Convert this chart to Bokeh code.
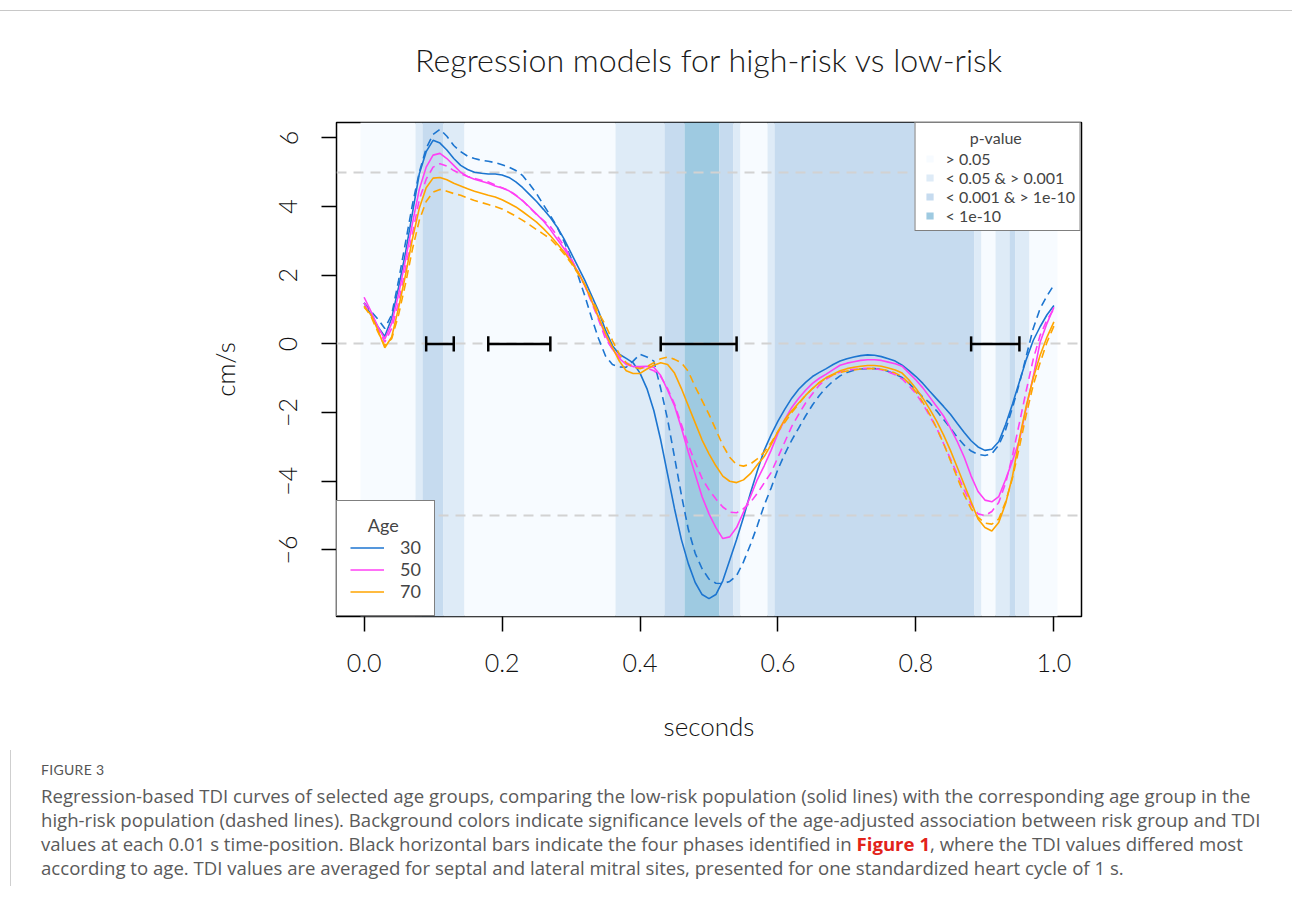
from bokeh.plotting import figure
from bokeh.models import (ColumnDataSource, Legend, LegendItem, FixedTicker,
                          NumeralTickFormatter, Div, Range1d)
from bokeh.layouts import column
from bokeh.core.properties import value
from bokeh.embed import file_html
from bokeh.resources import INLINE

# ---------------- data ----------------
time_s = [round(i * 0.01, 2) for i in range(101)]

# low-risk (solid) curves, cm/s
low_30 = [1.19, 0.85, 0.5, 0.22, 0.75, 1.65, 2.65, 3.8, 4.95, 5.6,
          5.93, 5.85, 5.65, 5.4, 5.2, 5.08, 5.0, 4.97, 4.95, 4.95,
          4.92, 4.85, 4.72, 4.55, 4.35, 4.15, 3.92, 3.68, 3.4, 3.05,
          2.65, 2.25, 1.85, 1.4, 0.95, 0.4, -0.05, -0.3, -0.42, -0.55,
          -0.85, -1.3, -1.94, -2.8, -3.8, -4.8, -5.7, -6.4, -6.95, -7.3,
          -7.42, -7.3, -6.9, -6.3, -5.7, -5.05, -4.35, -3.7, -3.1, -2.65,
          -2.25, -1.9, -1.58, -1.32, -1.12, -0.95, -0.83, -0.72, -0.6, -0.5,
          -0.43, -0.38, -0.34, -0.32, -0.33, -0.37, -0.43, -0.5, -0.62, -0.78,
          -0.95, -1.15, -1.38, -1.6, -1.82, -2.05, -2.32, -2.58, -2.82, -3.0,
          -3.1, -3.07, -2.85, -2.35, -1.75, -1.1, -0.45, 0.1, 0.5, 0.85, 1.12]
low_50 = [1.36, 0.95, 0.5, 0.14, 0.6, 1.45, 2.45, 3.5, 4.5, 5.15,
          5.5, 5.55, 5.4, 5.2, 5.0, 4.88, 4.8, 4.74, 4.68, 4.6,
          4.54, 4.46, 4.33, 4.17, 3.98, 3.78, 3.58, 3.33, 3.05, 2.77,
          2.45, 2.1, 1.7, 1.25, 0.75, 0.25, -0.15, -0.42, -0.6, -0.66,
          -0.66, -0.65, -0.68, -0.92, -1.35, -1.8, -2.45, -3.15, -3.8, -4.45,
          -4.95, -5.35, -5.67, -5.62, -5.35, -4.9, -4.45, -3.95, -3.55, -3.1,
          -2.6, -2.2, -1.85, -1.58, -1.35, -1.15, -1.0, -0.88, -0.75, -0.62,
          -0.56, -0.52, -0.48, -0.46, -0.46, -0.48, -0.53, -0.58, -0.65, -0.85,
          -1.05, -1.28, -1.55, -1.82, -2.1, -2.45, -2.85, -3.3, -3.85, -4.3,
          -4.55, -4.6, -4.45, -3.95, -3.4, -2.8, -1.85, -0.95, 0.05, 0.6, 1.07]
low_70 = [1.07, 0.85, 0.4, -0.11, 0.2, 1.05, 2.0, 3.05, 3.95, 4.55,
          4.83, 4.85, 4.78, 4.68, 4.6, 4.52, 4.45, 4.39, 4.33, 4.28,
          4.2, 4.1, 3.99, 3.85, 3.7, 3.55, 3.36, 3.15, 2.92, 2.68,
          2.4, 2.1, 1.72, 1.25, 0.78, 0.3, -0.1, -0.5, -0.78, -0.86,
          -0.86, -0.73, -0.62, -0.55, -0.6, -0.85, -1.3, -1.8, -2.3, -2.8,
          -3.2, -3.55, -3.85, -4.0, -4.04, -3.96, -3.78, -3.52, -3.28, -2.93,
          -2.55, -2.2, -1.95, -1.72, -1.5, -1.3, -1.12, -0.98, -0.88, -0.78,
          -0.72, -0.68, -0.65, -0.63, -0.63, -0.65, -0.7, -0.76, -0.85, -1.05,
          -1.3, -1.58, -1.9, -2.25, -2.65, -3.1, -3.6, -4.1, -4.6, -5.1,
          -5.35, -5.45, -5.2, -4.65, -3.85, -2.75, -1.8, -1.0, -0.33, 0.2, 0.64]

# high-risk (dashed) curves, cm/s
high_30 = [1.2, 0.95, 0.72, 0.45, 0.85, 1.85, 2.95, 4.05, 5.0, 5.7,
           6.1, 6.25, 6.05, 5.78, 5.6, 5.47, 5.4, 5.35, 5.32, 5.28,
           5.22, 5.15, 5.05, 4.9, 4.65, 4.38, 4.05, 3.74, 3.4, 2.98,
           2.5, 2.0, 1.4, 0.75, 0.15, -0.35, -0.6, -0.67, -0.68, -0.5,
           -0.3, -0.38, -0.5, -1.3, -2.2, -3.3, -4.4, -5.4, -6.1, -6.55,
           -6.85, -6.97, -6.98, -6.92, -6.75, -6.35, -5.85, -5.3, -4.7, -4.2,
           -3.65, -3.2, -2.8, -2.45, -2.1, -1.78, -1.5, -1.27, -1.08, -0.93,
           -0.83, -0.77, -0.73, -0.72, -0.72, -0.74, -0.8, -0.88, -0.98, -1.15,
           -1.35, -1.55, -1.72, -1.95, -2.2, -2.45, -2.72, -2.95, -3.12, -3.22,
           -3.25, -3.2, -2.95, -2.5, -1.85, -1.15, -0.35, 0.45, 1.03, 1.4, 1.72]
high_50 = [1.2, 0.85, 0.45, 0.05, 0.45, 1.2, 2.2, 3.2, 4.2, 4.8,
           5.15, 5.25, 5.18, 5.05, 4.95, 4.88, 4.82, 4.77, 4.72, 4.63,
           4.55, 4.47, 4.33, 4.17, 3.97, 3.77, 3.6, 3.42, 3.15, 2.85,
           2.5, 2.1, 1.7, 1.2, 0.7, 0.15, -0.15, -0.38, -0.55, -0.65,
           -0.68, -0.7, -0.78, -0.95, -1.3, -1.75, -2.35, -2.95, -3.45, -3.92,
           -4.25, -4.52, -4.75, -4.9, -4.92, -4.8, -4.62, -4.35, -4.05, -3.75,
           -3.3, -2.85, -2.4, -2.05, -1.72, -1.45, -1.2, -1.02, -0.9, -0.82,
           -0.77, -0.74, -0.72, -0.71, -0.72, -0.75, -0.82, -0.9, -1.02, -1.22,
           -1.45, -1.75, -2.1, -2.45, -2.9, -3.35, -3.8, -4.25, -4.68, -4.95,
           -5.0, -4.88, -4.62, -4.05, -3.25, -2.3, -1.35, -0.45, 0.25, 0.7, 1.02]
high_70 = [1.1, 0.8, 0.35, -0.05, 0.15, 0.85, 1.75, 2.75, 3.6, 4.15,
           4.42, 4.5, 4.45, 4.38, 4.33, 4.25, 4.18, 4.12, 4.06, 4.0,
           3.93, 3.83, 3.72, 3.6, 3.47, 3.33, 3.2, 3.06, 2.85, 2.62,
           2.36, 2.05, 1.72, 1.32, 0.9, 0.55, 0.1, -0.3, -0.55, -0.68,
           -0.72, -0.66, -0.55, -0.43, -0.38, -0.45, -0.55, -0.8, -1.25, -1.65,
           -2.05, -2.5, -2.95, -3.3, -3.52, -3.56, -3.5, -3.35, -3.15, -2.88,
           -2.55, -2.28, -2.0, -1.75, -1.5, -1.3, -1.13, -1.0, -0.9, -0.83,
           -0.79, -0.76, -0.73, -0.72, -0.72, -0.74, -0.78, -0.85, -0.95, -1.15,
           -1.4, -1.7, -2.05, -2.45, -2.9, -3.4, -3.9, -4.4, -4.8, -5.05,
           -5.22, -5.25, -5.1, -4.6, -3.9, -3.0, -2.05, -1.2, -0.55, 0.05, 0.52]

# significance class per 0.01 s position: 0 >0.05, 1 <0.05, 2 <0.001, 3 <1e-10
p_level = [0, 0, 0, 0, 0, 0, 0, 0, 1, 2,
           2, 2, 1, 1, 1, 0, 0, 0, 0, 0,
           0, 0, 0, 0, 0, 0, 0, 0, 0, 0,
           0, 0, 0, 0, 0, 0, 0, 1, 1, 1,
           1, 1, 1, 1, 2, 2, 2, 3, 3, 3,
           3, 3, 2, 2, 1, 0, 0, 0, 0, 1,
           2, 2, 2, 2, 2, 2, 2, 2, 2, 2,
           2, 2, 2, 2, 2, 2, 2, 2, 2, 2,
           2, 2, 2, 2, 2, 2, 2, 2, 2, 1,
           0, 0, 1, 1, 2, 1, 1, 0, 0, 0, 0]
pval_labels = ["> 0.05", "< 0.05 & > 0.001", "< 0.001 & > 1e-10", "< 1e-10"]
pval_colors = ["#F7FBFF", "#DEEBF7", "#C6DBEF", "#9ECAE1"]

ages = ["30", "50", "70"]
age_colors = ["#1C75D0", "#FF40F4", "#FFA500"]

phase_start = [0.09, 0.18, 0.43, 0.88]
phase_end = [0.13, 0.27, 0.54, 0.95]

ref_levels = [-5, 0, 5]
x_ticks = [0.0, 0.2, 0.4, 0.6, 0.8, 1.0]
y_ticks = [-6, -4, -2, 0, 2, 4, 6]

title_text = "Regression models for high-risk vs low-risk"

FONT = "Lato"
LIGHT = "'Lato Light', Lato"
NB = "\u00a0"

# ---------------- figure ----------------
p = figure(width=1290, height=633,
           x_range=Range1d(-0.04, 1.04), y_range=Range1d(-7.94, 6.45),
           min_border_left=336, min_border_right=209,
           min_border_top=5, min_border_bottom=134,
           output_backend="svg", toolbar_location=None)
p.grid.visible = False
p.background_fill_color = "white"
p.border_fill_color = "white"
p.outline_line_color = "black"
p.outline_line_width = 1.5

# background significance bands (merge runs of equal class)
bx0, bx1, bcol = [], [], []
start = 0
for i in range(1, len(p_level) + 1):
    if i == len(p_level) or p_level[i] != p_level[start]:
        bx0.append(time_s[start] - 0.005)
        bx1.append(time_s[i - 1] + 0.005)
        bcol.append(pval_colors[p_level[start]])
        start = i
p.vstrip(x0="x0", x1="x1", fill_color="c", line_color=None,
         source=ColumnDataSource(dict(x0=bx0, x1=bx1, c=bcol)))

# reference dashed lines
p.hspan(y=ref_levels, line_color="#d2d2d2", line_width=2, line_dash="10 7")

# curves
low = [low_30, low_50, low_70]
high = [high_30, high_50, high_70]
solid_renderers = []
for vals_low, vals_high, col in zip(low, high, age_colors):
    r = p.line(time_s, vals_low, line_color=col, line_width=1.6)
    p.line(time_s, vals_high, line_color=col, line_width=1.6, line_dash="8 5")
    solid_renderers.append(r)

# phase bars
cap = 0.22
p.segment(x0=phase_start, y0=[0] * len(phase_start), x1=phase_end,
          y1=[0] * len(phase_end), line_color="black", line_width=2.5)
cap_x = phase_start + phase_end
p.segment(x0=cap_x, y0=[-cap] * len(cap_x), x1=cap_x, y1=[cap] * len(cap_x),
          line_color="black", line_width=2.5)

# axes
p.xaxis.ticker = FixedTicker(ticks=x_ticks)
p.yaxis.ticker = FixedTicker(ticks=y_ticks)
p.xaxis.formatter = NumeralTickFormatter(format="0.0")
for ax in (p.xaxis, p.yaxis):
    ax.axis_line_color = None
    ax.major_tick_line_color = "black"
    ax.major_tick_line_width = 1.5
    ax.major_tick_out = 15
    ax.major_tick_in = 0
    ax.minor_tick_line_color = None
    ax.major_label_text_font = LIGHT
    ax.major_label_text_font_size = "25px"
    ax.major_label_text_color = "#111111"
    ax.axis_label_text_font = LIGHT
    ax.axis_label_text_font_size = "26px"
    ax.axis_label_text_font_style = "normal"
    ax.axis_label_text_color = "#111111"
p.xaxis.axis_label = "seconds"
p.yaxis.axis_label = "cm/s"
p.xaxis.major_label_standoff = 22
p.yaxis.major_label_standoff = 24
p.yaxis.major_label_orientation = "vertical"
p.xaxis.axis_label_standoff = 35
p.yaxis.axis_label_standoff = 36

# legends
nan = float("nan")
sq_renderers = [p.scatter(x=[nan], y=[nan], marker="square", size=8,
                          fill_color=c, line_color=None) for c in pval_colors]
leg_p = Legend(items=[LegendItem(label=value(lab), renderers=[r])
                      for lab, r in zip(pval_labels, sq_renderers)],
               title=NB * 12 + "p-value", location="top_right", margin=0,
               padding=5, spacing=0, glyph_width=18, glyph_height=19,
               label_height=19, label_standoff=7, border_line_color="black",
               border_line_width=1.5, background_fill_alpha=1.0)
leg_p.label_text_font = FONT
leg_p.label_text_font_size = "16px"
leg_p.title_text_font = FONT
leg_p.title_text_font_size = "16px"
leg_p.title_text_font_style = "normal"
leg_p.title_standoff = 2
p.add_layout(leg_p)

leg_a = Legend(items=[LegendItem(label=value(a), renderers=[r])
                      for a, r in zip(ages, solid_renderers)],
               title=NB * 4 + "Age", location="bottom_left", margin=0,
               padding=13, spacing=0, glyph_width=34, glyph_height=21,
               label_height=21, label_standoff=16, border_line_color="black",
               border_line_width=1.5, background_fill_alpha=1.0)
leg_a.label_text_font = FONT
leg_a.label_text_font_size = "18px"
leg_a.title_text_font = FONT
leg_a.title_text_font_size = "18px"
leg_a.title_text_font_style = "normal"
leg_a.title_standoff = 0
p.add_layout(leg_a)

# top rule of the page
top_rule = Div(text="", width=1292, height=11, margin=(0, 0, 0, 0),
               styles={"border-bottom": "1px solid #c8c8c8",
                       "box-sizing": "border-box"})

# chart title (centred over the plot frame)
title_div = Div(text=title_text, width=1292, height=106, margin=(0, 0, 0, 0),
                styles={"font-family": LIGHT, "font-size": "32.2px",
                        "color": "#1a1a1a", "text-align": "center",
                        "line-height": "40px", "padding-top": "29px",
                        "padding-left": "125px", "box-sizing": "border-box",
                        "white-space": "nowrap"})

# caption
caption_html = (
    "<div style='font-family:Lato, sans-serif; font-size:14px; color:#555; "
    "letter-spacing:0.3px; line-height:20px;'>FIGURE 3</div>"
    "<div style=\"font-family:'Open Sans', sans-serif; font-size:18.6px; color:#5a5a5a; "
    "line-height:24px; margin-top:4px; white-space:nowrap;\">"
    "Regression-based TDI curves of selected age groups, comparing the low-risk "
    "population (solid lines) with the corresponding age group in the<br>"
    "high-risk population (dashed lines). Background colors indicate significance "
    "levels of the age-adjusted association between risk group and TDI<br>"
    "values at each 0.01 s time-position. Black horizontal bars indicate the four "
    "phases identified in <b style='color:#E2231A;'>Figure 1</b>, where the TDI "
    "values differed most<br>"
    "according to age. TDI values are averaged for septal and lateral mitral sites, "
    "presented for one standardized heart cycle of 1 s.</div>"
)
cap_div = Div(text=caption_html, width=1280, height=136, margin=(0, 0, 0, 10),
              styles={"border-left": "1px solid #cfcfcf", "padding-left": "30px",
                      "padding-top": "10px", "box-sizing": "border-box"})

layout = column(top_rule, title_div, p, cap_div, spacing=0)
open("out.html", "w").write(file_html(layout, INLINE))
